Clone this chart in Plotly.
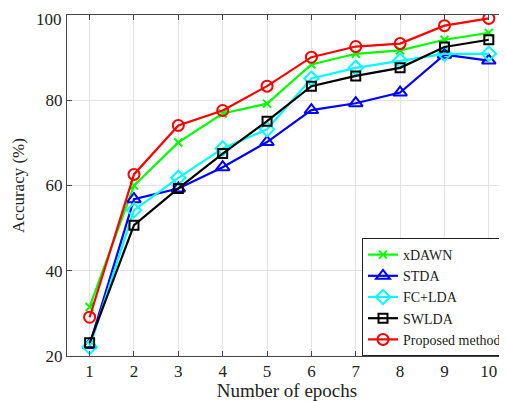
import plotly.graph_objects as go

epochs = [1, 2, 3, 4, 5, 6, 7, 8, 9, 10]
xdawn = [31.5, 60.0, 70.1, 76.9, 79.2, 88.4, 90.9, 91.7, 94.2, 95.8]
stda = [22.6, 56.8, 59.3, 64.3, 70.2, 77.7, 79.3, 81.8, 90.7, 89.3]
fclda = [22.1, 54.2, 61.8, 68.7, 73.2, 85.1, 87.6, 89.3, 90.9, 90.9]
swlda = [23.1, 50.7, 59.3, 67.5, 75.1, 83.3, 85.7, 87.6, 92.5, 94.2]
proposed = [29.1, 62.6, 74.1, 77.6, 83.3, 90.1, 92.6, 93.3, 97.5, 99.2]
y_ticks = [20, 40, 60, 80, 100]
y_tick_labels = ["20", "40", "60", "80", "100"]

series = [
    ("xDAWN", xdawn, "#00FF00", "x-thin", 8),
    ("STDA", stda, "#0000FF", "triangle-up-open", 12),
    ("FC+LDA", fclda, "#00FFFF", "diamond-open", 11),
    ("SWLDA", swlda, "#000000", "square-open", 9),
    ("Proposed method", proposed, "#FF0000", "circle-open", 11),
]

fig = go.Figure()
for name, vals, color, sym, size in series:
    fig.add_trace(go.Scatter(
        x=epochs, y=vals, name=name, mode="lines+markers",
        line=dict(color=color, width=2.2),
        marker=dict(symbol=sym, size=size, color=color,
                    line=dict(color=color, width=2)),
    ))

font = "Liberation Serif, Times New Roman, serif"
tick_font = dict(family=font, size=17, color="#222")
axis_common = dict(
    showline=True, linecolor="#444", linewidth=1, mirror="allticks",
    ticks="inside", ticklen=5, tickcolor="#444",
    showgrid=True, gridcolor="#e3e3e3", gridwidth=1, zeroline=False,
    tickfont=tick_font,
)

# the top tick label would sit partly above the page edge, where plotly drops it,
# so it is drawn as an annotation anchored on the y axis value
shown_labels = y_tick_labels[:-1] + [""]

fig.update_layout(
    width=499, height=393,
    margin=dict(l=59, r=0, t=7, b=45),
    paper_bgcolor="white", plot_bgcolor="white",
    font=dict(family=font, color="#222"),
    xaxis=dict(range=[0.49, 10.41], tickvals=epochs,
               title=dict(text="Number of epochs", font=dict(family=font, size=19), standoff=0),
               **axis_common),
    yaxis=dict(range=[20, 100], tickvals=y_ticks, ticktext=shown_labels,
               title=dict(text="Accuracy (%)", font=dict(family=font, size=17), standoff=16),
               **axis_common),
    legend=dict(x=1, y=0, xanchor="right", yanchor="bottom",
                bgcolor="white", bordercolor="#222", borderwidth=1,
                font=dict(family=font, size=14, color="#222"),
                tracegroupgap=0, itemwidth=30),
    showlegend=True,
    annotations=[dict(text=y_tick_labels[-1], xref="paper", yref="y", x=0, y=y_ticks[-1],
                      xanchor="right", yanchor="middle", xshift=-3, yshift=-4,
                      showarrow=False, font=tick_font)],
)

fig.write_html("out.html")
